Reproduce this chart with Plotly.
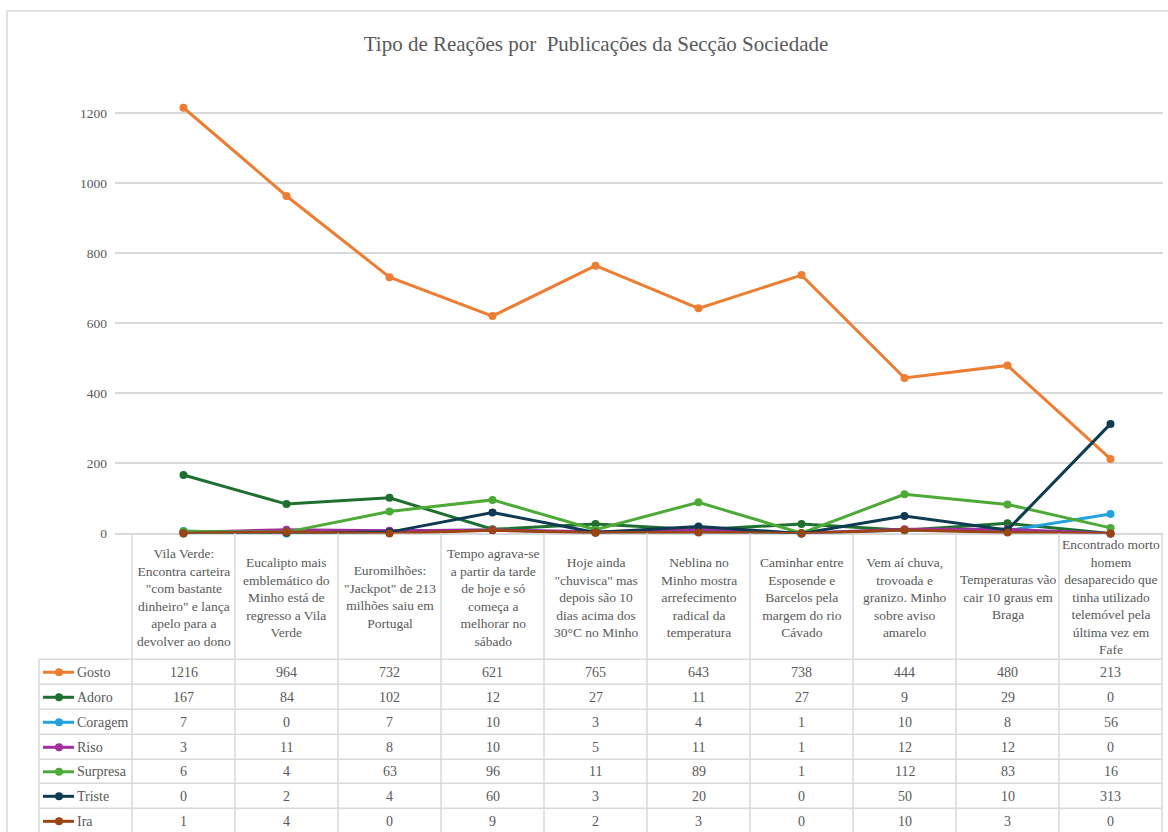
import plotly.graph_objects as go

W, H = 1168, 832
# the captured picture comes out about 1% shorter than the figure in y; compensate
Y_FIT = 0.99

categories = [
    'Vila Verde:<br>Encontra carteira<br>"com bastante<br>dinheiro" e lança<br>apelo para a<br>devolver ao dono',
    'Eucalipto mais<br>emblemático do<br>Minho está de<br>regresso a Vila<br>Verde',
    'Euromilhões:<br>"Jackpot" de 213<br>milhões saiu em<br>Portugal',
    'Tempo agrava-se<br>a partir da tarde<br>de hoje e só<br>começa a<br>melhorar no<br>sábado',
    'Hoje ainda<br>"chuvisca" mas<br>depois são 10<br>dias acima dos<br>30°C no Minho',
    'Neblina no<br>Minho mostra<br>arrefecimento<br>radical da<br>temperatura',
    'Caminhar entre<br>Esposende e<br>Barcelos pela<br>margem do rio<br>Cávado',
    'Vem aí chuva,<br>trovoada e<br>granizo. Minho<br>sobre aviso<br>amarelo',
    'Temperaturas vão<br>cair 10 graus em<br>Braga',
    'Encontrado morto<br>homem<br>desaparecido que<br>tinha utilizado<br>telemóvel pela<br>última vez em<br>Fafe',
]

series_names = ["Gosto", "Adoro", "Coragem", "Riso", "Surpresa", "Triste", "Ira"]
gosto    = [1216, 964, 732, 621, 765, 643, 738, 444, 480, 213]
adoro    = [167, 84, 102, 12, 27, 11, 27, 9, 29, 0]
coragem  = [7, 0, 7, 10, 3, 4, 1, 10, 8, 56]
riso     = [3, 11, 8, 10, 5, 11, 1, 12, 12, 0]
surpresa = [6, 4, 63, 96, 11, 89, 1, 112, 83, 16]
triste   = [0, 2, 4, 60, 3, 20, 0, 50, 10, 313]
ira      = [1, 4, 0, 9, 2, 3, 0, 10, 3, 0]
series_values = [gosto, adoro, coragem, riso, surpresa, triste, ira]
colors = ["#ED7D31", "#1F7030", "#22A3DD", "#A0309E", "#4DAA36", "#0E3A52", "#9C4414"]

y_ticks = [0, 200, 400, 600, 800, 1000, 1200]

FONT = "Liberation Serif"
TXT = "#595959"
GRID = "#D9D9D9"


def px(x):
    return x / W


def py(y):
    return 1 - (y / Y_FIT) / H


# geometry (window pixels)
col0, colw = 132, 103
plot_left, plot_right = 115, 1163
y0_pix, scale = 533.3, 0.35
plot_top = 60
xr = [(plot_left - col0) / colw - 0.5, (plot_right - col0) / colw - 0.5]
yr_top = (y0_pix - plot_top) / scale

fig = go.Figure()
xi = list(range(len(categories)))
for name, vals, c in zip(series_names, series_values, colors):
    fig.add_trace(go.Scatter(
        x=xi, y=vals, name=name, mode="lines+markers",
        line=dict(color=c, width=3), marker=dict(color=c, size=8),
        cliponaxis=False, showlegend=False,
    ))

shapes = []
annotations = []

# outer chart border
shapes.append(dict(type="rect", xref="paper", yref="paper",
                   x0=px(7), x1=px(1200), y0=py(900), y1=py(11),
                   line=dict(color=GRID, width=1.5)))

# table geometry
header_top, header_bot = 533, 659
row_lines = [659, 684, 709, 734, 759, 783, 808, 833]
legend_left = 39
table_right = col0 + colw * len(categories)

# vertical borders
for k in range(len(categories) + 1):
    xx = col0 + colw * k
    shapes.append(dict(type="line", xref="paper", yref="paper",
                       x0=px(xx), x1=px(xx), y0=py(header_top), y1=py(900),
                       line=dict(color=GRID, width=1.5)))
shapes.append(dict(type="line", xref="paper", yref="paper",
                   x0=px(legend_left), x1=px(legend_left), y0=py(header_bot), y1=py(900),
                   line=dict(color=GRID, width=1.5)))
# horizontal borders
for yy in row_lines:
    shapes.append(dict(type="line", xref="paper", yref="paper",
                       x0=px(legend_left), x1=px(table_right), y0=py(yy), y1=py(yy),
                       line=dict(color=GRID, width=1.5)))

# header texts
for i, cat in enumerate(categories):
    annotations.append(dict(x=i, y=py((header_top + header_bot) / 2 + 1), xref="x", yref="paper",
                            text=cat, showarrow=False, align="center",
                            xanchor="center", yanchor="middle",
                            font=dict(family=FONT, size=13.5, color=TXT)))

# data rows
for r, (name, vals, c) in enumerate(zip(series_names, series_values, colors)):
    yc = (row_lines[r] + row_lines[r + 1]) / 2 + 0.5
    for i, v in enumerate(vals):
        annotations.append(dict(x=i, y=py(yc), xref="x", yref="paper",
                                text=str(v), showarrow=False,
                                xanchor="center", yanchor="middle",
                                font=dict(family=FONT, size=14, color=TXT)))
    # legend key
    shapes.append(dict(type="line", xref="paper", yref="paper",
                       x0=px(43), x1=px(74), y0=py(yc), y1=py(yc),
                       line=dict(color=c, width=3)))
    shapes.append(dict(type="circle", xref="paper", yref="paper",
                       x0=px(55), x1=px(63), y0=py(yc + 4), y1=py(yc - 4),
                       fillcolor=c, line=dict(color=c, width=0)))
    annotations.append(dict(x=px(75), y=py(yc), xref="paper", yref="paper",
                            text=name, showarrow=False,
                            xanchor="left", yanchor="middle",
                            font=dict(family=FONT, size=14, color=TXT)))

fig.update_layout(
    width=W, height=H,
    margin=dict(l=0, r=0, t=0, b=0),
    paper_bgcolor="white", plot_bgcolor="white",
    title=dict(text="Tipo de Reações por  Publicações da Secção Sociedade",
               x=px(596), xanchor="center", y=py(43), yanchor="middle",
               font=dict(family=FONT, size=21, color=TXT)),
    xaxis=dict(domain=[px(plot_left), px(plot_right)], range=xr,
               showgrid=False, zeroline=False, showticklabels=False,
               showline=False, ticks=""),
    yaxis=dict(domain=[py(y0_pix), py(plot_top)], range=[0, yr_top],
               tickvals=y_ticks, ticktext=[str(t) for t in y_ticks],
               showgrid=True, gridcolor=GRID, gridwidth=1.5,
               zeroline=True, zerolinecolor=GRID, zerolinewidth=1.5,
               showline=False, ticks="", ticklabelstandoff=7,
               tickfont=dict(family=FONT, size=13.5, color=TXT)),
    shapes=shapes,
    annotations=annotations,
)

fig.write_html(
    "out.html",
    config={"displayModeBar": False},
    post_script="document.body.style.margin='0';document.body.style.overflow='hidden';",
)
